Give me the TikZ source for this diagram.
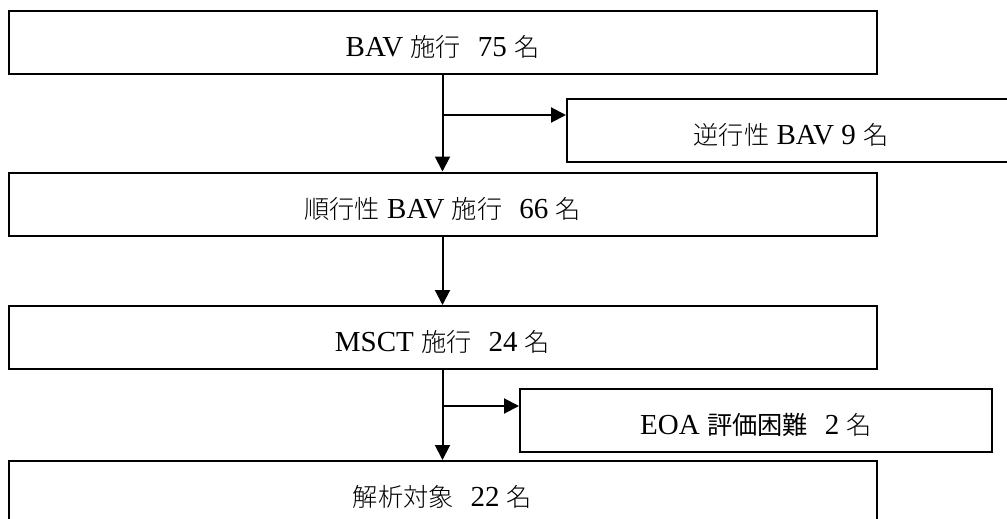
\documentclass[tikz,border=0pt]{standalone}
\usepackage{fontspec}
\setmainfont{Liberation Serif}
\newfontfamily\jp[Scale=0.87]{Noto Sans CJK JP Light}
\newfontfamily\jpg[Scale=0.87]{Noto Sans CJK JP}
\usetikzlibrary{arrows.meta}
\tikzset{
  box/.style={draw, line width=2pt, rectangle, inner sep=0pt, minimum height=63pt,
    text height=28pt, text depth=0pt, font=\fontsize{29}{34}\selectfont},
  mainbox/.style={box, minimum width=868pt},
  arr/.style={line width=2pt, -{Triangle[length=15pt,width=15pt]}},
}
\begin{document}
\begin{tikzpicture}[x=1pt,y=-1pt]
\useasboundingbox (0,0) rectangle (1007,519);
\clip (0,0) rectangle (1007,519);
\node[mainbox] (b1) at (442.5,42.5) {BAV {\jp 施行}\,\, 75 {\jp 名}};
\node[box, minimum width=448pt] (a1) at (791,130) {{\jp 逆行性} BAV 9 {\jp 名}};
\node[mainbox] (b2) at (442.5,204) {{\jp 順行性} BAV {\jp 施行}\,\, 66 {\jp 名}};
\node[mainbox] (b3) at (442.5,337.5) {MSCT {\jp 施行}\,\, 24 {\jp 名}};
\node[box, minimum width=472pt] (a2) at (756,420.5) {EOA {\jpg 評価困難}\,\, 2 {\jp 名}};
\node[mainbox] (b4) at (442.5,492.5) {{\jp 解析対象}\,\, 22 {\jp 名}};
\coordinate (j1) at (442.5,115);
\coordinate (j2) at (442.5,406);
\draw[arr] (b1) -- (b2);
\draw[arr] (j1) -- (j1 -| a1.west);
\draw[arr] (b2) -- (b3);
\draw[arr] (b3) -- (b4);
\draw[arr] (j2) -- (j2 -| a2.west);
\end{tikzpicture}
\end{document}
